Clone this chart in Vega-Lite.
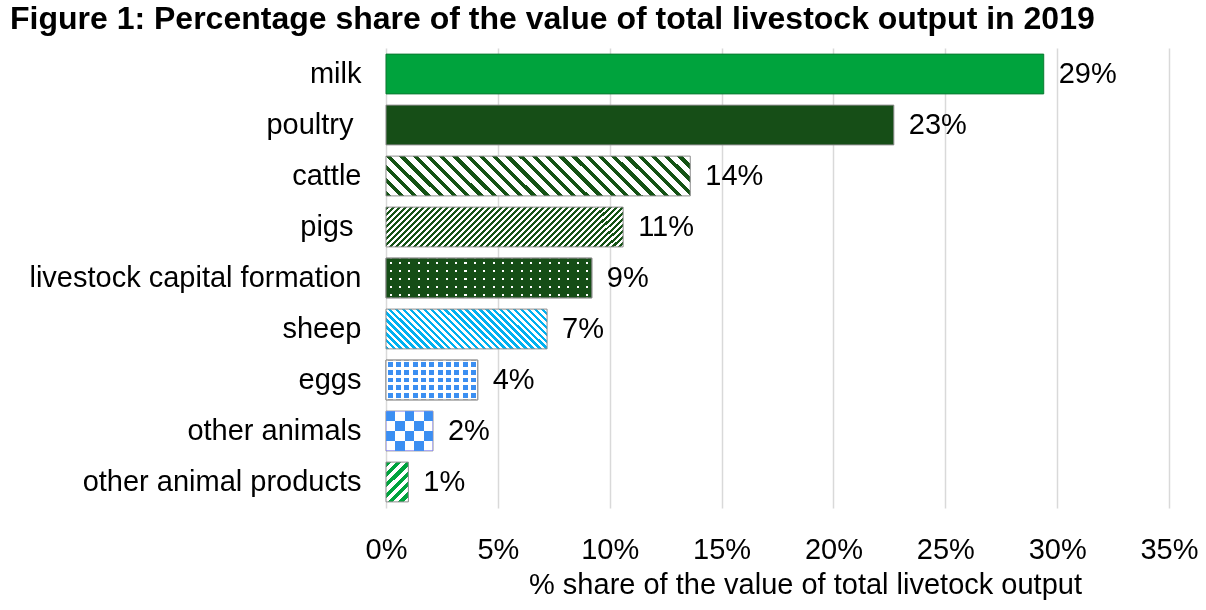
{
  "$schema": "https://vega.github.io/schema/vega-lite/v6.json",
  "width": 783,
  "height": 460,
  "autosize": {"type": "none"},
  "padding": {"left": 386, "top": 48, "right": 37, "bottom": 102},
  "background": "white",
  "config": {"font": "Liberation Sans", "view": {"stroke": null}},
  "title": {"text": "Figure 1: Percentage share of the value of total livestock output in 2019", "anchor": "start", "frame": "group", "dx": -376, "offset": 12, "fontSize": 32, "fontWeight": "bold", "color": "#000000", "font": "Liberation Sans"},
  "data": {"values": [
    {"item": "milk", "value": 0.294},
    {"item": "poultry", "value": 0.227},
    {"item": "cattle", "value": 0.136},
    {"item": "pigs", "value": 0.106},
    {"item": "livestock capital formation", "value": 0.092},
    {"item": "sheep", "value": 0.072},
    {"item": "eggs", "value": 0.041},
    {"item": "other animals", "value": 0.021},
    {"item": "other animal products", "value": 0.010}
  ]},
  "encoding": {
    "y": {"field": "item", "type": "nominal", "sort": null,
      "scale": {"paddingInner": 0.22, "paddingOuter": 0.12},
      "axis": {"title": null, "labelFontSize": 29, "labelColor": "#000000",
        "labelPadding": {"condition": {"test": "datum.value === 'poultry' || datum.value === 'pigs'", "value": 33}, "value": 25},
        "ticks": false, "tickSize": 0, "domain": false, "grid": false, "labelLimit": 400}},
    "x": {"field": "value", "type": "quantitative",
      "scale": {"domain": [0, 0.35], "nice": false},
      "axis": {"values": [0, 0.05, 0.1, 0.15, 0.2, 0.25, 0.3, 0.35], "format": ".0%", "labelFontSize": 29, "labelColor": "#000000", "labelPadding": 27, "labelFlush": false, "labelOverlap": false, "ticks": false, "tickSize": 0, "domain": false, "grid": true, "gridColor": "#d9d9d9", "gridWidth": 1.5, "title": "% share of the value of total livetock output", "titleFontSize": 29, "titleFontWeight": "normal", "titleColor": "#000000", "titlePadding": 6, "titleX": 419}}
  },
  "layer": [
    {
      "mark": {"type": "bar", "strokeWidth": 1},
      "encoding": {
        "stroke": {"condition": {"test": "datum.item === 'milk'", "value": "#0b7a32"}, "value": "#8c8c8c"},
        "fill": {"condition": [
          {"test": "datum.item === 'milk'", "value": "#00a33d"},
          {"test": "datum.item === 'poultry'", "value": "#164e17"},
          {"test": "datum.item === 'cattle'", "value": {"gradient": "linear", "x1": 0, "y1": 1, "x2": 1.1123, "y2": 0.8536, "stops": [
            {"offset":0,"color":"#145214"},{"offset":0.0154,"color":"#145214"},{"offset":0.0154,"color":"#fff"},{"offset":0.0385,"color":"#fff"},
            {"offset":0.0385,"color":"#145214"},{"offset":0.0538,"color":"#145214"},{"offset":0.0538,"color":"#fff"},{"offset":0.0769,"color":"#fff"},
            {"offset":0.0769,"color":"#145214"},{"offset":0.0923,"color":"#145214"},{"offset":0.0923,"color":"#fff"},{"offset":0.1154,"color":"#fff"},
            {"offset":0.1154,"color":"#145214"},{"offset":0.1308,"color":"#145214"},{"offset":0.1308,"color":"#fff"},{"offset":0.1538,"color":"#fff"},
            {"offset":0.1538,"color":"#145214"},{"offset":0.1692,"color":"#145214"},{"offset":0.1692,"color":"#fff"},{"offset":0.1923,"color":"#fff"},
            {"offset":0.1923,"color":"#145214"},{"offset":0.2077,"color":"#145214"},{"offset":0.2077,"color":"#fff"},{"offset":0.2308,"color":"#fff"},
            {"offset":0.2308,"color":"#145214"},{"offset":0.2462,"color":"#145214"},{"offset":0.2462,"color":"#fff"},{"offset":0.2692,"color":"#fff"},
            {"offset":0.2692,"color":"#145214"},{"offset":0.2846,"color":"#145214"},{"offset":0.2846,"color":"#fff"},{"offset":0.3077,"color":"#fff"},
            {"offset":0.3077,"color":"#145214"},{"offset":0.3231,"color":"#145214"},{"offset":0.3231,"color":"#fff"},{"offset":0.3462,"color":"#fff"},
            {"offset":0.3462,"color":"#145214"},{"offset":0.3615,"color":"#145214"},{"offset":0.3615,"color":"#fff"},{"offset":0.3846,"color":"#fff"},
            {"offset":0.3846,"color":"#145214"},{"offset":0.4,"color":"#145214"},{"offset":0.4,"color":"#fff"},{"offset":0.4231,"color":"#fff"},
            {"offset":0.4231,"color":"#145214"},{"offset":0.4385,"color":"#145214"},{"offset":0.4385,"color":"#fff"},{"offset":0.4615,"color":"#fff"},
            {"offset":0.4615,"color":"#145214"},{"offset":0.4769,"color":"#145214"},{"offset":0.4769,"color":"#fff"},{"offset":0.5,"color":"#fff"},
            {"offset":0.5,"color":"#145214"},{"offset":0.5154,"color":"#145214"},{"offset":0.5154,"color":"#fff"},{"offset":0.5385,"color":"#fff"},
            {"offset":0.5385,"color":"#145214"},{"offset":0.5538,"color":"#145214"},{"offset":0.5538,"color":"#fff"},{"offset":0.5769,"color":"#fff"},
            {"offset":0.5769,"color":"#145214"},{"offset":0.5923,"color":"#145214"},{"offset":0.5923,"color":"#fff"},{"offset":0.6154,"color":"#fff"},
            {"offset":0.6154,"color":"#145214"},{"offset":0.6308,"color":"#145214"},{"offset":0.6308,"color":"#fff"},{"offset":0.6538,"color":"#fff"},
            {"offset":0.6538,"color":"#145214"},{"offset":0.6692,"color":"#145214"},{"offset":0.6692,"color":"#fff"},{"offset":0.6923,"color":"#fff"},
            {"offset":0.6923,"color":"#145214"},{"offset":0.7077,"color":"#145214"},{"offset":0.7077,"color":"#fff"},{"offset":0.7308,"color":"#fff"},
            {"offset":0.7308,"color":"#145214"},{"offset":0.7462,"color":"#145214"},{"offset":0.7462,"color":"#fff"},{"offset":0.7692,"color":"#fff"},
            {"offset":0.7692,"color":"#145214"},{"offset":0.7846,"color":"#145214"},{"offset":0.7846,"color":"#fff"},{"offset":0.8077,"color":"#fff"},
            {"offset":0.8077,"color":"#145214"},{"offset":0.8231,"color":"#145214"},{"offset":0.8231,"color":"#fff"},{"offset":0.8462,"color":"#fff"},
            {"offset":0.8462,"color":"#145214"},{"offset":0.8615,"color":"#145214"},{"offset":0.8615,"color":"#fff"},{"offset":0.8846,"color":"#fff"},
            {"offset":0.8846,"color":"#145214"},{"offset":0.9,"color":"#145214"},{"offset":0.9,"color":"#fff"},{"offset":0.9231,"color":"#fff"},
            {"offset":0.9231,"color":"#145214"},{"offset":0.9385,"color":"#145214"},{"offset":0.9385,"color":"#fff"},{"offset":0.9615,"color":"#fff"},
            {"offset":0.9615,"color":"#145214"},{"offset":0.9769,"color":"#145214"},{"offset":0.9769,"color":"#fff"},{"offset":1,"color":"#fff"}
          ]}},
          {"test": "datum.item === 'pigs'", "value": {"gradient": "linear", "x1": 0, "y1": 0, "x2": 1.1364, "y2": 0.1918, "stops": [
            {"offset":0,"color":"#145214"},{"offset":0.0109,"color":"#145214"},{"offset":0.0109,"color":"#fff"},{"offset":0.0217,"color":"#fff"},
            {"offset":0.0217,"color":"#145214"},{"offset":0.0326,"color":"#145214"},{"offset":0.0326,"color":"#fff"},{"offset":0.0435,"color":"#fff"},
            {"offset":0.0435,"color":"#145214"},{"offset":0.0543,"color":"#145214"},{"offset":0.0543,"color":"#fff"},{"offset":0.0652,"color":"#fff"},
            {"offset":0.0652,"color":"#145214"},{"offset":0.0761,"color":"#145214"},{"offset":0.0761,"color":"#fff"},{"offset":0.0870,"color":"#fff"},
            {"offset":0.0870,"color":"#145214"},{"offset":0.0978,"color":"#145214"},{"offset":0.0978,"color":"#fff"},{"offset":0.1087,"color":"#fff"},
            {"offset":0.1087,"color":"#145214"},{"offset":0.1196,"color":"#145214"},{"offset":0.1196,"color":"#fff"},{"offset":0.1304,"color":"#fff"},
            {"offset":0.1304,"color":"#145214"},{"offset":0.1413,"color":"#145214"},{"offset":0.1413,"color":"#fff"},{"offset":0.1522,"color":"#fff"},
            {"offset":0.1522,"color":"#145214"},{"offset":0.1630,"color":"#145214"},{"offset":0.1630,"color":"#fff"},{"offset":0.1739,"color":"#fff"},
            {"offset":0.1739,"color":"#145214"},{"offset":0.1848,"color":"#145214"},{"offset":0.1848,"color":"#fff"},{"offset":0.1957,"color":"#fff"},
            {"offset":0.1957,"color":"#145214"},{"offset":0.2065,"color":"#145214"},{"offset":0.2065,"color":"#fff"},{"offset":0.2174,"color":"#fff"},
            {"offset":0.2174,"color":"#145214"},{"offset":0.2283,"color":"#145214"},{"offset":0.2283,"color":"#fff"},{"offset":0.2391,"color":"#fff"},
            {"offset":0.2391,"color":"#145214"},{"offset":0.25,"color":"#145214"},{"offset":0.25,"color":"#fff"},{"offset":0.2609,"color":"#fff"},
            {"offset":0.2609,"color":"#145214"},{"offset":0.2717,"color":"#145214"},{"offset":0.2717,"color":"#fff"},{"offset":0.2826,"color":"#fff"},
            {"offset":0.2826,"color":"#145214"},{"offset":0.2935,"color":"#145214"},{"offset":0.2935,"color":"#fff"},{"offset":0.3043,"color":"#fff"},
            {"offset":0.3043,"color":"#145214"},{"offset":0.3152,"color":"#145214"},{"offset":0.3152,"color":"#fff"},{"offset":0.3261,"color":"#fff"},
            {"offset":0.3261,"color":"#145214"},{"offset":0.3370,"color":"#145214"},{"offset":0.3370,"color":"#fff"},{"offset":0.3478,"color":"#fff"},
            {"offset":0.3478,"color":"#145214"},{"offset":0.3587,"color":"#145214"},{"offset":0.3587,"color":"#fff"},{"offset":0.3696,"color":"#fff"},
            {"offset":0.3696,"color":"#145214"},{"offset":0.3804,"color":"#145214"},{"offset":0.3804,"color":"#fff"},{"offset":0.3913,"color":"#fff"},
            {"offset":0.3913,"color":"#145214"},{"offset":0.4022,"color":"#145214"},{"offset":0.4022,"color":"#fff"},{"offset":0.4130,"color":"#fff"},
            {"offset":0.4130,"color":"#145214"},{"offset":0.4239,"color":"#145214"},{"offset":0.4239,"color":"#fff"},{"offset":0.4348,"color":"#fff"},
            {"offset":0.4348,"color":"#145214"},{"offset":0.4457,"color":"#145214"},{"offset":0.4457,"color":"#fff"},{"offset":0.4565,"color":"#fff"},
            {"offset":0.4565,"color":"#145214"},{"offset":0.4674,"color":"#145214"},{"offset":0.4674,"color":"#fff"},{"offset":0.4783,"color":"#fff"},
            {"offset":0.4783,"color":"#145214"},{"offset":0.4891,"color":"#145214"},{"offset":0.4891,"color":"#fff"},{"offset":0.5,"color":"#fff"},
            {"offset":0.5,"color":"#145214"},{"offset":0.5109,"color":"#145214"},{"offset":0.5109,"color":"#fff"},{"offset":0.5217,"color":"#fff"},
            {"offset":0.5217,"color":"#145214"},{"offset":0.5326,"color":"#145214"},{"offset":0.5326,"color":"#fff"},{"offset":0.5435,"color":"#fff"},
            {"offset":0.5435,"color":"#145214"},{"offset":0.5543,"color":"#145214"},{"offset":0.5543,"color":"#fff"},{"offset":0.5652,"color":"#fff"},
            {"offset":0.5652,"color":"#145214"},{"offset":0.5761,"color":"#145214"},{"offset":0.5761,"color":"#fff"},{"offset":0.5870,"color":"#fff"},
            {"offset":0.5870,"color":"#145214"},{"offset":0.5978,"color":"#145214"},{"offset":0.5978,"color":"#fff"},{"offset":0.6087,"color":"#fff"},
            {"offset":0.6087,"color":"#145214"},{"offset":0.6196,"color":"#145214"},{"offset":0.6196,"color":"#fff"},{"offset":0.6304,"color":"#fff"},
            {"offset":0.6304,"color":"#145214"},{"offset":0.6413,"color":"#145214"},{"offset":0.6413,"color":"#fff"},{"offset":0.6522,"color":"#fff"},
            {"offset":0.6522,"color":"#145214"},{"offset":0.6630,"color":"#145214"},{"offset":0.6630,"color":"#fff"},{"offset":0.6739,"color":"#fff"},
            {"offset":0.6739,"color":"#145214"},{"offset":0.6848,"color":"#145214"},{"offset":0.6848,"color":"#fff"},{"offset":0.6957,"color":"#fff"},
            {"offset":0.6957,"color":"#145214"},{"offset":0.7065,"color":"#145214"},{"offset":0.7065,"color":"#fff"},{"offset":0.7174,"color":"#fff"},
            {"offset":0.7174,"color":"#145214"},{"offset":0.7283,"color":"#145214"},{"offset":0.7283,"color":"#fff"},{"offset":0.7391,"color":"#fff"},
            {"offset":0.7391,"color":"#145214"},{"offset":0.75,"color":"#145214"},{"offset":0.75,"color":"#fff"},{"offset":0.7609,"color":"#fff"},
            {"offset":0.7609,"color":"#145214"},{"offset":0.7717,"color":"#145214"},{"offset":0.7717,"color":"#fff"},{"offset":0.7826,"color":"#fff"},
            {"offset":0.7826,"color":"#145214"},{"offset":0.7935,"color":"#145214"},{"offset":0.7935,"color":"#fff"},{"offset":0.8043,"color":"#fff"},
            {"offset":0.8043,"color":"#145214"},{"offset":0.8152,"color":"#145214"},{"offset":0.8152,"color":"#fff"},{"offset":0.8261,"color":"#fff"},
            {"offset":0.8261,"color":"#145214"},{"offset":0.8370,"color":"#145214"},{"offset":0.8370,"color":"#fff"},{"offset":0.8478,"color":"#fff"},
            {"offset":0.8478,"color":"#145214"},{"offset":0.8587,"color":"#145214"},{"offset":0.8587,"color":"#fff"},{"offset":0.8696,"color":"#fff"},
            {"offset":0.8696,"color":"#145214"},{"offset":0.8804,"color":"#145214"},{"offset":0.8804,"color":"#fff"},{"offset":0.8913,"color":"#fff"},
            {"offset":0.8913,"color":"#145214"},{"offset":0.9022,"color":"#145214"},{"offset":0.9022,"color":"#fff"},{"offset":0.9130,"color":"#fff"},
            {"offset":0.9130,"color":"#145214"},{"offset":0.9239,"color":"#145214"},{"offset":0.9239,"color":"#fff"},{"offset":0.9348,"color":"#fff"},
            {"offset":0.9348,"color":"#145214"},{"offset":0.9457,"color":"#145214"},{"offset":0.9457,"color":"#fff"},{"offset":0.9565,"color":"#fff"},
            {"offset":0.9565,"color":"#145214"},{"offset":0.9674,"color":"#145214"},{"offset":0.9674,"color":"#fff"},{"offset":0.9783,"color":"#fff"},
            {"offset":0.9783,"color":"#145214"},{"offset":0.9891,"color":"#145214"},{"offset":0.9891,"color":"#fff"},{"offset":1,"color":"#fff"}
          ]}},
          {"test": "datum.item === 'livestock capital formation'", "value": {"gradient": "linear", "x1": 0, "y1": 0, "x2": 0, "y2": 1, "stops": [
            {"offset":0,"color":"#154d16"},{"offset":0.1,"color":"#154d16"},{"offset":0.1,"color":"#fff"},{"offset":0.15,"color":"#fff"},
            {"offset":0.15,"color":"#154d16"},{"offset":0.3,"color":"#154d16"},{"offset":0.3,"color":"#fff"},{"offset":0.35,"color":"#fff"},
            {"offset":0.35,"color":"#154d16"},{"offset":0.5,"color":"#154d16"},{"offset":0.5,"color":"#fff"},{"offset":0.55,"color":"#fff"},
            {"offset":0.55,"color":"#154d16"},{"offset":0.7,"color":"#154d16"},{"offset":0.7,"color":"#fff"},{"offset":0.75,"color":"#fff"},
            {"offset":0.75,"color":"#154d16"},{"offset":0.9,"color":"#154d16"},{"offset":0.9,"color":"#fff"},{"offset":0.95,"color":"#fff"},
            {"offset":0.95,"color":"#154d16"},{"offset":1,"color":"#154d16"}
          ]}},
          {"test": "datum.item === 'sheep'", "value": {"gradient": "linear", "x1": 0, "y1": 1, "x2": 1.1759, "y2": 0.7079, "stops": [
            {"offset":0,"color":"#00b0f0"},{"offset":0.0172,"color":"#00b0f0"},{"offset":0.0172,"color":"#fff"},{"offset":0.0345,"color":"#fff"},
            {"offset":0.0345,"color":"#00b0f0"},{"offset":0.0517,"color":"#00b0f0"},{"offset":0.0517,"color":"#fff"},{"offset":0.0690,"color":"#fff"},
            {"offset":0.0690,"color":"#00b0f0"},{"offset":0.0862,"color":"#00b0f0"},{"offset":0.0862,"color":"#fff"},{"offset":0.1034,"color":"#fff"},
            {"offset":0.1034,"color":"#00b0f0"},{"offset":0.1207,"color":"#00b0f0"},{"offset":0.1207,"color":"#fff"},{"offset":0.1379,"color":"#fff"},
            {"offset":0.1379,"color":"#00b0f0"},{"offset":0.1552,"color":"#00b0f0"},{"offset":0.1552,"color":"#fff"},{"offset":0.1724,"color":"#fff"},
            {"offset":0.1724,"color":"#00b0f0"},{"offset":0.1897,"color":"#00b0f0"},{"offset":0.1897,"color":"#fff"},{"offset":0.2069,"color":"#fff"},
            {"offset":0.2069,"color":"#00b0f0"},{"offset":0.2241,"color":"#00b0f0"},{"offset":0.2241,"color":"#fff"},{"offset":0.2414,"color":"#fff"},
            {"offset":0.2414,"color":"#00b0f0"},{"offset":0.2586,"color":"#00b0f0"},{"offset":0.2586,"color":"#fff"},{"offset":0.2759,"color":"#fff"},
            {"offset":0.2759,"color":"#00b0f0"},{"offset":0.2931,"color":"#00b0f0"},{"offset":0.2931,"color":"#fff"},{"offset":0.3103,"color":"#fff"},
            {"offset":0.3103,"color":"#00b0f0"},{"offset":0.3276,"color":"#00b0f0"},{"offset":0.3276,"color":"#fff"},{"offset":0.3448,"color":"#fff"},
            {"offset":0.3448,"color":"#00b0f0"},{"offset":0.3621,"color":"#00b0f0"},{"offset":0.3621,"color":"#fff"},{"offset":0.3793,"color":"#fff"},
            {"offset":0.3793,"color":"#00b0f0"},{"offset":0.3966,"color":"#00b0f0"},{"offset":0.3966,"color":"#fff"},{"offset":0.4138,"color":"#fff"},
            {"offset":0.4138,"color":"#00b0f0"},{"offset":0.4310,"color":"#00b0f0"},{"offset":0.4310,"color":"#fff"},{"offset":0.4483,"color":"#fff"},
            {"offset":0.4483,"color":"#00b0f0"},{"offset":0.4655,"color":"#00b0f0"},{"offset":0.4655,"color":"#fff"},{"offset":0.4828,"color":"#fff"},
            {"offset":0.4828,"color":"#00b0f0"},{"offset":0.5,"color":"#00b0f0"},{"offset":0.5,"color":"#fff"},{"offset":0.5172,"color":"#fff"},
            {"offset":0.5172,"color":"#00b0f0"},{"offset":0.5345,"color":"#00b0f0"},{"offset":0.5345,"color":"#fff"},{"offset":0.5517,"color":"#fff"},
            {"offset":0.5517,"color":"#00b0f0"},{"offset":0.5690,"color":"#00b0f0"},{"offset":0.5690,"color":"#fff"},{"offset":0.5862,"color":"#fff"},
            {"offset":0.5862,"color":"#00b0f0"},{"offset":0.6034,"color":"#00b0f0"},{"offset":0.6034,"color":"#fff"},{"offset":0.6207,"color":"#fff"},
            {"offset":0.6207,"color":"#00b0f0"},{"offset":0.6379,"color":"#00b0f0"},{"offset":0.6379,"color":"#fff"},{"offset":0.6552,"color":"#fff"},
            {"offset":0.6552,"color":"#00b0f0"},{"offset":0.6724,"color":"#00b0f0"},{"offset":0.6724,"color":"#fff"},{"offset":0.6897,"color":"#fff"},
            {"offset":0.6897,"color":"#00b0f0"},{"offset":0.7069,"color":"#00b0f0"},{"offset":0.7069,"color":"#fff"},{"offset":0.7241,"color":"#fff"},
            {"offset":0.7241,"color":"#00b0f0"},{"offset":0.7414,"color":"#00b0f0"},{"offset":0.7414,"color":"#fff"},{"offset":0.7586,"color":"#fff"},
            {"offset":0.7586,"color":"#00b0f0"},{"offset":0.7759,"color":"#00b0f0"},{"offset":0.7759,"color":"#fff"},{"offset":0.7931,"color":"#fff"},
            {"offset":0.7931,"color":"#00b0f0"},{"offset":0.8103,"color":"#00b0f0"},{"offset":0.8103,"color":"#fff"},{"offset":0.8276,"color":"#fff"},
            {"offset":0.8276,"color":"#00b0f0"},{"offset":0.8448,"color":"#00b0f0"},{"offset":0.8448,"color":"#fff"},{"offset":0.8621,"color":"#fff"},
            {"offset":0.8621,"color":"#00b0f0"},{"offset":0.8793,"color":"#00b0f0"},{"offset":0.8793,"color":"#fff"},{"offset":0.8966,"color":"#fff"},
            {"offset":0.8966,"color":"#00b0f0"},{"offset":0.9138,"color":"#00b0f0"},{"offset":0.9138,"color":"#fff"},{"offset":0.9310,"color":"#fff"},
            {"offset":0.9310,"color":"#00b0f0"},{"offset":0.9483,"color":"#00b0f0"},{"offset":0.9483,"color":"#fff"},{"offset":0.9655,"color":"#fff"},
            {"offset":0.9655,"color":"#00b0f0"},{"offset":0.9828,"color":"#00b0f0"},{"offset":0.9828,"color":"#fff"},{"offset":1,"color":"#fff"}
          ]}},
          {"test": "datum.item === 'eggs'", "value": {"gradient": "linear", "x1": 0, "y1": 0, "x2": 0, "y2": 1, "stops": [
            {"offset":0,"color":"#fff"},{"offset":0.0375,"color":"#fff"},{"offset":0.0375,"color":"#3b8ff2"},{"offset":0.1625,"color":"#3b8ff2"},
            {"offset":0.1625,"color":"#fff"},{"offset":0.2375,"color":"#fff"},{"offset":0.2375,"color":"#3b8ff2"},{"offset":0.3625,"color":"#3b8ff2"},
            {"offset":0.3625,"color":"#fff"},{"offset":0.4375,"color":"#fff"},{"offset":0.4375,"color":"#3b8ff2"},{"offset":0.5625,"color":"#3b8ff2"},
            {"offset":0.5625,"color":"#fff"},{"offset":0.6375,"color":"#fff"},{"offset":0.6375,"color":"#3b8ff2"},{"offset":0.7625,"color":"#3b8ff2"},
            {"offset":0.7625,"color":"#fff"},{"offset":0.8375,"color":"#fff"},{"offset":0.8375,"color":"#3b8ff2"},{"offset":0.9625,"color":"#3b8ff2"},
            {"offset":0.9625,"color":"#fff"},{"offset":1,"color":"#fff"}
          ]}},
          {"test": "datum.item === 'other animals'", "value": {"gradient": "linear", "x1": 0, "y1": 0, "x2": 1, "y2": 0, "stops": [
            {"offset":0,"color":"#000"},{"offset":0.2,"color":"#000"},{"offset":0.2,"color":"#fff"},{"offset":0.4,"color":"#fff"},
            {"offset":0.4,"color":"#000"},{"offset":0.6,"color":"#000"},{"offset":0.6,"color":"#fff"},{"offset":0.8,"color":"#fff"},
            {"offset":0.8,"color":"#000"},{"offset":1,"color":"#000"}
          ]}}
        ],
        "value": {"gradient": "linear", "x1": 0, "y1": 0, "x2": 0.6651, "y2": 1.1878, "stops": [
          {"offset":0,"color":"#00a33d"},{"offset":0.0833,"color":"#00a33d"},{"offset":0.0833,"color":"#fff"},{"offset":0.1667,"color":"#fff"},
          {"offset":0.1667,"color":"#00a33d"},{"offset":0.25,"color":"#00a33d"},{"offset":0.25,"color":"#fff"},{"offset":0.3333,"color":"#fff"},
          {"offset":0.3333,"color":"#00a33d"},{"offset":0.4167,"color":"#00a33d"},{"offset":0.4167,"color":"#fff"},{"offset":0.5,"color":"#fff"},
          {"offset":0.5,"color":"#00a33d"},{"offset":0.5833,"color":"#00a33d"},{"offset":0.5833,"color":"#fff"},{"offset":0.6667,"color":"#fff"},
          {"offset":0.6667,"color":"#00a33d"},{"offset":0.75,"color":"#00a33d"},{"offset":0.75,"color":"#fff"},{"offset":0.8333,"color":"#fff"},
          {"offset":0.8333,"color":"#00a33d"},{"offset":0.9167,"color":"#00a33d"},{"offset":0.9167,"color":"#fff"},{"offset":1,"color":"#fff"}
        ]}}
      }
    },
    {
      "transform": [{"filter": "datum.item === 'eggs' || datum.item === 'livestock capital formation'"}],
      "mark": {"type": "bar", "strokeWidth": 1, "stroke": "#8c8c8c"},
      "encoding": {
        "fill": {"condition": {"test": "datum.item === 'eggs'", "value": {"gradient": "linear", "x1": 0, "y1": 0, "x2": 1, "y2": 0, "stops": [
          {"offset":0,"color":"#fff"},{"offset":0.0182,"color":"#fff"},{"offset":0.0182,"color":"rgba(255,255,255,0)"},{"offset":0.0727,"color":"rgba(255,255,255,0)"},
          {"offset":0.0727,"color":"#fff"},{"offset":0.1091,"color":"#fff"},{"offset":0.1091,"color":"rgba(255,255,255,0)"},{"offset":0.1636,"color":"rgba(255,255,255,0)"},
          {"offset":0.1636,"color":"#fff"},{"offset":0.2,"color":"#fff"},{"offset":0.2,"color":"rgba(255,255,255,0)"},{"offset":0.2545,"color":"rgba(255,255,255,0)"},
          {"offset":0.2545,"color":"#fff"},{"offset":0.2909,"color":"#fff"},{"offset":0.2909,"color":"rgba(255,255,255,0)"},{"offset":0.3455,"color":"rgba(255,255,255,0)"},
          {"offset":0.3455,"color":"#fff"},{"offset":0.3818,"color":"#fff"},{"offset":0.3818,"color":"rgba(255,255,255,0)"},{"offset":0.4364,"color":"rgba(255,255,255,0)"},
          {"offset":0.4364,"color":"#fff"},{"offset":0.4727,"color":"#fff"},{"offset":0.4727,"color":"rgba(255,255,255,0)"},{"offset":0.5273,"color":"rgba(255,255,255,0)"},
          {"offset":0.5273,"color":"#fff"},{"offset":0.5636,"color":"#fff"},{"offset":0.5636,"color":"rgba(255,255,255,0)"},{"offset":0.6182,"color":"rgba(255,255,255,0)"},
          {"offset":0.6182,"color":"#fff"},{"offset":0.6545,"color":"#fff"},{"offset":0.6545,"color":"rgba(255,255,255,0)"},{"offset":0.7091,"color":"rgba(255,255,255,0)"},
          {"offset":0.7091,"color":"#fff"},{"offset":0.7455,"color":"#fff"},{"offset":0.7455,"color":"rgba(255,255,255,0)"},{"offset":0.8,"color":"rgba(255,255,255,0)"},
          {"offset":0.8,"color":"#fff"},{"offset":0.8364,"color":"#fff"},{"offset":0.8364,"color":"rgba(255,255,255,0)"},{"offset":0.8909,"color":"rgba(255,255,255,0)"},
          {"offset":0.8909,"color":"#fff"},{"offset":0.9273,"color":"#fff"},{"offset":0.9273,"color":"rgba(255,255,255,0)"},{"offset":0.9818,"color":"rgba(255,255,255,0)"},
          {"offset":0.9818,"color":"#fff"},{"offset":1,"color":"#fff"}
        ]}},
        "value": {"gradient": "linear", "x1": 0, "y1": 0, "x2": 1, "y2": 0, "stops": [
          {"offset":0,"color":"#154d16"},{"offset":0.0178,"color":"#154d16"},{"offset":0.0178,"color":"rgba(21,77,22,0)"},{"offset":0.0277,"color":"rgba(21,77,22,0)"},
          {"offset":0.0277,"color":"#154d16"},{"offset":0.0633,"color":"#154d16"},{"offset":0.0633,"color":"rgba(21,77,22,0)"},{"offset":0.0732,"color":"rgba(21,77,22,0)"},
          {"offset":0.0732,"color":"#154d16"},{"offset":0.1087,"color":"#154d16"},{"offset":0.1087,"color":"rgba(21,77,22,0)"},{"offset":0.1186,"color":"rgba(21,77,22,0)"},
          {"offset":0.1186,"color":"#154d16"},{"offset":0.1542,"color":"#154d16"},{"offset":0.1542,"color":"rgba(21,77,22,0)"},{"offset":0.1641,"color":"rgba(21,77,22,0)"},
          {"offset":0.1641,"color":"#154d16"},{"offset":0.1996,"color":"#154d16"},{"offset":0.1996,"color":"rgba(21,77,22,0)"},{"offset":0.2095,"color":"rgba(21,77,22,0)"},
          {"offset":0.2095,"color":"#154d16"},{"offset":0.2451,"color":"#154d16"},{"offset":0.2451,"color":"rgba(21,77,22,0)"},{"offset":0.2550,"color":"rgba(21,77,22,0)"},
          {"offset":0.2550,"color":"#154d16"},{"offset":0.2905,"color":"#154d16"},{"offset":0.2905,"color":"rgba(21,77,22,0)"},{"offset":0.3004,"color":"rgba(21,77,22,0)"},
          {"offset":0.3004,"color":"#154d16"},{"offset":0.3360,"color":"#154d16"},{"offset":0.3360,"color":"rgba(21,77,22,0)"},{"offset":0.3459,"color":"rgba(21,77,22,0)"},
          {"offset":0.3459,"color":"#154d16"},{"offset":0.3814,"color":"#154d16"},{"offset":0.3814,"color":"rgba(21,77,22,0)"},{"offset":0.3913,"color":"rgba(21,77,22,0)"},
          {"offset":0.3913,"color":"#154d16"},{"offset":0.4269,"color":"#154d16"},{"offset":0.4269,"color":"rgba(21,77,22,0)"},{"offset":0.4368,"color":"rgba(21,77,22,0)"},
          {"offset":0.4368,"color":"#154d16"},{"offset":0.4723,"color":"#154d16"},{"offset":0.4723,"color":"rgba(21,77,22,0)"},{"offset":0.4822,"color":"rgba(21,77,22,0)"},
          {"offset":0.4822,"color":"#154d16"},{"offset":0.5178,"color":"#154d16"},{"offset":0.5178,"color":"rgba(21,77,22,0)"},{"offset":0.5277,"color":"rgba(21,77,22,0)"},
          {"offset":0.5277,"color":"#154d16"},{"offset":0.5633,"color":"#154d16"},{"offset":0.5633,"color":"rgba(21,77,22,0)"},{"offset":0.5732,"color":"rgba(21,77,22,0)"},
          {"offset":0.5732,"color":"#154d16"},{"offset":0.6087,"color":"#154d16"},{"offset":0.6087,"color":"rgba(21,77,22,0)"},{"offset":0.6186,"color":"rgba(21,77,22,0)"},
          {"offset":0.6186,"color":"#154d16"},{"offset":0.6542,"color":"#154d16"},{"offset":0.6542,"color":"rgba(21,77,22,0)"},{"offset":0.6641,"color":"rgba(21,77,22,0)"},
          {"offset":0.6641,"color":"#154d16"},{"offset":0.6996,"color":"#154d16"},{"offset":0.6996,"color":"rgba(21,77,22,0)"},{"offset":0.7095,"color":"rgba(21,77,22,0)"},
          {"offset":0.7095,"color":"#154d16"},{"offset":0.7451,"color":"#154d16"},{"offset":0.7451,"color":"rgba(21,77,22,0)"},{"offset":0.7550,"color":"rgba(21,77,22,0)"},
          {"offset":0.7550,"color":"#154d16"},{"offset":0.7905,"color":"#154d16"},{"offset":0.7905,"color":"rgba(21,77,22,0)"},{"offset":0.8004,"color":"rgba(21,77,22,0)"},
          {"offset":0.8004,"color":"#154d16"},{"offset":0.8360,"color":"#154d16"},{"offset":0.8360,"color":"rgba(21,77,22,0)"},{"offset":0.8459,"color":"rgba(21,77,22,0)"},
          {"offset":0.8459,"color":"#154d16"},{"offset":0.8814,"color":"#154d16"},{"offset":0.8814,"color":"rgba(21,77,22,0)"},{"offset":0.8913,"color":"rgba(21,77,22,0)"},
          {"offset":0.8913,"color":"#154d16"},{"offset":0.9269,"color":"#154d16"},{"offset":0.9269,"color":"rgba(21,77,22,0)"},{"offset":0.9368,"color":"rgba(21,77,22,0)"},
          {"offset":0.9368,"color":"#154d16"},{"offset":0.9723,"color":"#154d16"},{"offset":0.9723,"color":"rgba(21,77,22,0)"},{"offset":0.9822,"color":"rgba(21,77,22,0)"},
          {"offset":0.9822,"color":"#154d16"},{"offset":1,"color":"#154d16"}
        ]}}
      }
    },
    {
      "transform": [{"filter": "datum.item === 'other animals'"}],
      "mark": {"type": "bar", "strokeWidth": 0, "blend": "difference"},
      "encoding": {
        "fill": {"value": {"gradient": "linear", "x1": 0, "y1": 0, "x2": 0, "y2": 1, "stops": [
          {"offset":0,"color":"#000"},{"offset":0.25,"color":"#000"},{"offset":0.25,"color":"#fff"},{"offset":0.5,"color":"#fff"},
          {"offset":0.5,"color":"#000"},{"offset":0.75,"color":"#000"},{"offset":0.75,"color":"#fff"},{"offset":1,"color":"#fff"}
        ]}}
      }
    },
    {
      "transform": [{"filter": "datum.item === 'other animals'"}],
      "mark": {"type": "bar", "strokeWidth": 0, "blend": "lighten", "fill": "#3b8ff2"},
      "encoding": {}
    },
    {
      "mark": {"type": "text", "align": "left", "baseline": "middle", "dx": 15, "fontSize": 29, "color": "#000000"},
      "encoding": {
        "text": {"field": "value", "type": "quantitative", "format": ".0%"}
      }
    }
  ]
}
